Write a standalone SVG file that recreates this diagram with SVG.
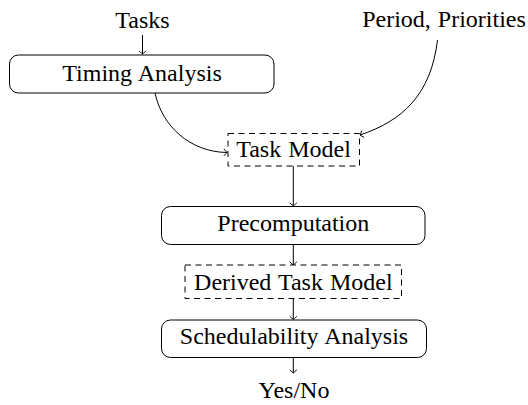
<svg xmlns="http://www.w3.org/2000/svg" width="528" height="405" viewBox="0 0 528 405">
<defs>
<marker id="arr" markerWidth="10" markerHeight="10" refX="0" refY="0" viewBox="-5 -5 10 10" orient="auto" markerUnits="userSpaceOnUse">
<path d="M -3.2 -3.6 Q -0.8 -0.9 0 0 Q -0.8 0.9 -3.2 3.6" fill="none" stroke="#000" stroke-width="0.9"/>
</marker>
</defs>
<style>
text{font-family:"Liberation Serif","Times New Roman",serif;font-size:24px;fill:#000;text-anchor:middle;word-spacing:1px}
.box{fill:#fff;stroke:#000;stroke-width:1}
.dash{fill:#fff;stroke:#000;stroke-width:1;stroke-dasharray:6 4.5}
.edge{fill:none;stroke:#000;stroke-width:1;marker-end:url(#arr)}
</style>
<g id="connectors">
<path class="edge" d="M142.5 35 L142.5 54"/>
<path class="edge" d="M155 93 C162 126 190 152 227 152.5"/>
<path class="edge" d="M437.5 40 C431 95 402 121 360 135"/>
<path class="edge" d="M293.3 166 L293.3 206"/>
<path class="edge" d="M293.3 244.5 L293.3 265"/>
<path class="edge" d="M293.3 298.5 L293.3 319.5"/>
<path class="edge" d="M293.3 357.5 L293.3 373"/>
</g>
<g id="tasks"><text x="142.5" y="28">Tasks</text></g>
<g id="period"><text x="444" y="27">Period, Priorities</text></g>
<g id="timing"><rect class="box" x="9.5" y="55" width="264.5" height="38" rx="9"/><text x="142" y="80.5">Timing Analysis</text></g>
<g id="taskmodel"><rect class="dash" x="228" y="133.5" width="131.5" height="32.5"/><text x="293.5" y="157">Task Model</text></g>
<g id="precomp"><rect class="box" x="161.5" y="206.5" width="263.5" height="38" rx="9"/><text x="293.3" y="230.5">Precomputation</text></g>
<g id="derived"><rect class="dash" x="185" y="265" width="216.5" height="33.5"/><text x="293.3" y="289.5">Derived Task Model</text></g>
<g id="sched"><rect class="box" x="161.5" y="320" width="265" height="37.5" rx="9"/><text x="294" y="344">Schedulability Analysis</text></g>
<g id="yesno"><text x="294" y="398">Yes/No</text></g>
</svg>
